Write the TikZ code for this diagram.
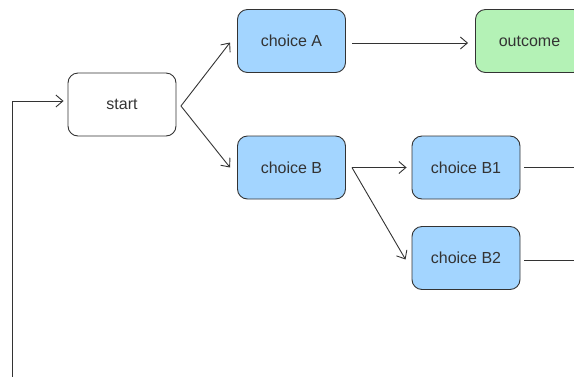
\documentclass[tikz,border=0pt]{standalone}
\usepackage{fontspec}
\setmainfont{Liberation Sans}
\usetikzlibrary{arrows.meta}
\definecolor{choiceblue}{RGB}{163,213,255}
\definecolor{outgreen}{RGB}{180,242,182}
\definecolor{edgegray}{RGB}{51,51,51}
\tikzset{
  box/.style={draw=edgegray,rounded corners=10pt,minimum width=108pt,minimum height=63pt,
    line width=0.9pt,font=\fontsize{16}{19}\selectfont,text=edgegray},
  choice/.style={box,fill=choiceblue},
  wire/.style={draw=edgegray,line width=0.9pt},
  link/.style={wire,-{Straight Barb[length=7pt,width=12pt]}},
}
\begin{document}
\begin{tikzpicture}[x=1pt,y=-1pt]
		\clip (0,0) rectangle (574,376);
		\useasboundingbox (0,0) rectangle (574,376);
		\node[box] (start) at (122,104.5) {start};
		\node[choice] (A) at (291.5,41) {choice A};
		\node[choice] (B) at (291.5,167.5) {choice B};
		\node[box,fill=outgreen] (out) at (529.5,41) {outcome};
		\node[choice] (B1) at (466,167.5) {choice B1};
		\node[choice] (B2) at (466,258) {choice B2};
%
		\coordinate (fork) at ([xshift=4.5pt,yshift=-1.5pt]start.east);
		\draw[link] (fork) -- ([xshift=-7pt,yshift=-1.5pt]A.west);
		\draw[link] (fork) -- ([xshift=-7pt]B.west);
		\draw[link] ([xshift=6.5pt,yshift=-2pt]A.east) -- ([xshift=-7pt,yshift=-2pt]out.west);
%
		\coordinate (split) at ([xshift=6pt]B.east);
		\draw[link] (split) -- ([xshift=-5pt]B1.west);
		\draw[link] (split) -- ([xshift=-6pt,yshift=-1.5pt]B2.west);
		\coordinate (B1out) at (590,167.5);
		\coordinate (B2out) at (590,260);
		\draw[wire] ([xshift=4pt]B1.east) -- (B1out);
		\draw[wire] ([xshift=4pt,yshift=-2pt]B2.east) -- (B2out);
%
		\coordinate (back) at (12,390);
		\draw[link] (back) |- ([xshift=-4pt,yshift=3.5pt]start.west);
\end{tikzpicture}
\end{document}
